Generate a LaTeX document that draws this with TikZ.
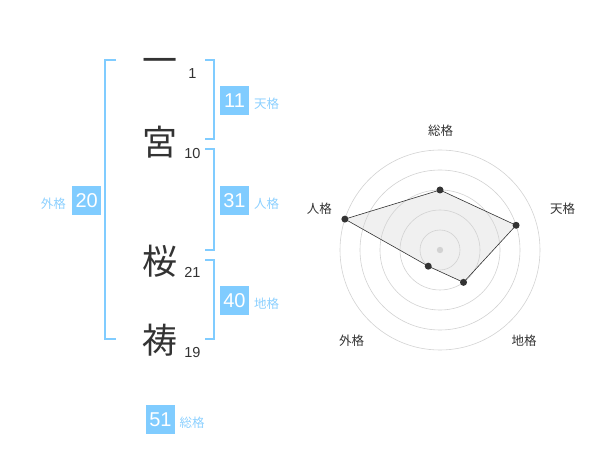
\documentclass[tikz,border=0pt]{standalone}
\usepackage{fontspec}
\setmainfont{Liberation Sans}
\newfontfamily\jpfont{Noto Sans CJK JP}
\definecolor{kakublue}{RGB}{128,204,255}
\definecolor{kakutext}{RGB}{140,208,255}
\definecolor{inkgray}{RGB}{51,51,51}
\definecolor{ringgray}{RGB}{210,210,210}
\definecolor{areagray}{RGB}{240,240,240}
\begin{document}
\begin{tikzpicture}[x=1pt,y=-1pt,
    kanji/.style={inner sep=0pt,text=inkgray,font=\jpfont\fontsize{35}{35}\selectfont},
    strokes/.style={inner sep=0pt,text=inkgray,font=\fontsize{14.5}{14.5}\selectfont},
    kakubox/.style={fill=kakublue,text=white,minimum size=29pt,inner sep=0pt,
        font=\fontsize{20}{20}\selectfont},
    kakuname/.style={inner sep=0pt,text=kakutext,font=\jpfont\fontsize{12.5}{12.5}\selectfont},
    bracket/.style={kakublue,line width=2pt},
    ring/.style={ringgray,line width=0.6pt},
    axisname/.style={inner sep=0pt,text=inkgray,font=\jpfont\fontsize{12.5}{12.5}\selectfont},
    dot/.style={circle,fill=inkgray,inner sep=0pt,minimum size=7pt}]
    \useasboundingbox (0,0) rectangle (600,470);
    %% Name
    \node[kanji] (c1) at (160,66) {一};
    \node[kanji] (c2) at (160,142) {宮};
    \node[kanji] (c3) at (160,261) {桜};
    \node[kanji] (c4) at (160,340) {祷};
    \node[strokes] (s1) at (192.5,73.3) {1};
    \node[strokes] (s2) at (192.5,153.3) {10};
    \node[strokes] (s3) at (192.5,272.7) {21};
    \node[strokes] (s4) at (192.5,352.7) {19};
    %% Brackets
    \draw[bracket] (116,60) -- (105,60) -- (105,339.3) -- (116,339.3);
    \draw[bracket] (205,60) -- (214.3,60) -- (214.3,139.3) -- (205,139.3);
    \draw[bracket] (205,149.3) -- (214.3,149.3) -- (214.3,250) -- (205,250);
    \draw[bracket] (205,260) -- (214.3,260) -- (214.3,339.3) -- (205,339.3);
    %% Scores
    \node[kakubox] (ten) at (234.5,100.3) {11};
    \node[kakuname,anchor=west] (ten-name) at (254,104) {天格};
    \node[kakubox] (jin) at (234.5,200.3) {31};
    \node[kakuname,anchor=west] (jin-name) at (254,204) {人格};
    \node[kakubox] (chi) at (234.5,300.3) {40};
    \node[kakuname,anchor=west] (chi-name) at (254,304) {地格};
    \node[kakubox] (gai) at (86.7,200.3) {20};
    \node[kakuname,anchor=east] (gai-name) at (66,203.3) {外格};
    \node[kakubox] (sou) at (160.5,419.3) {51};
    \node[kakuname,anchor=west] (sou-name) at (179.5,422.7) {総格};
    %% Radar
    \begin{scope}[shift={(440,250)},y=1pt]
        \coordinate (p-sou) at (90:60);
        \coordinate (p-ten) at (18:80);
        \coordinate (p-chi) at (-54:40);
        \coordinate (p-gai) at (-126:20);
        \coordinate (p-jin) at (162:100);
        \fill[areagray]
            (p-sou) -- (p-ten) -- (p-chi) -- (p-gai) -- (p-jin) -- cycle;
        \foreach \r in {20,40,...,100}
            \draw[ring] (0,0) circle (\r);
        \fill[ringgray] (0,0) circle (3.2);
        \draw[inkgray,line width=0.6pt]
            (p-sou) -- (p-ten) -- (p-chi) -- (p-gai) -- (p-jin) -- cycle;
        \foreach \p in {sou,ten,chi,gai,jin}
            \node[dot] (d-\p) at (p-\p) {};
    \end{scope}
    \node[axisname] (a-sou) at (440.7,130.7) {総格};
    \node[axisname] (a-ten) at (562.7,208.7) {天格};
    \node[axisname] (a-chi) at (524,341) {地格};
    \node[axisname] (a-gai) at (351.7,341) {外格};
    \node[axisname] (a-jin) at (319.3,208.7) {人格};
\end{tikzpicture}
\end{document}
